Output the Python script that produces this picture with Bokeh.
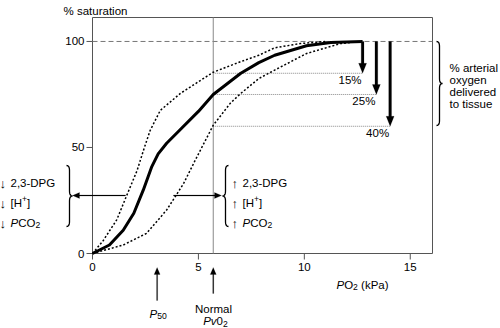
import numpy as np
from bokeh.plotting import figure
from bokeh.models import Range1d, Label, PolyAnnotation
from bokeh.core.properties import value
from bokeh.embed import file_html
from bokeh.resources import INLINE

# ---------------- data ----------------
po2_normal = [0, 0.8, 1.45, 1.95, 2.4, 2.8, 3.1, 3.5, 4.1, 5.0, 5.7, 7.0, 7.85, 8.6, 10.1, 11.25, 12.75]
sat_normal = [0, 4, 11, 19, 30, 41, 47, 52, 58, 67, 75, 85, 90, 93.5, 98, 99.5, 100]

po2_left = [0, 0.5, 1.15, 1.6, 2.1, 2.45, 2.72, 3.2, 4.15, 5.7, 7.0, 7.85, 8.6, 9.8, 11.0]
sat_left = [0, 6, 16, 27, 39, 50, 58, 67.5, 75.5, 85.5, 90.5, 93.5, 97, 99, 100]

po2_right = [0, 1.45, 2.55, 3.5, 4.3, 4.85, 5.7, 6.5, 7.0, 7.85, 8.6, 10.1, 11.7, 12.6]
sat_right = [0, 4, 9.5, 20.5, 33, 44, 60.5, 70.8, 75.5, 82.5, 86.5, 94.3, 99, 100]

x_ticks = [0, 5, 10, 15]
y_ticks = [0, 50, 100]
x_tick_labels = ["0", "5", "10", "15"]
y_tick_labels = ["0", "50", "100"]

delivered_pct = [15, 25, 40]
delivery_arrow_po2 = [12.75, 13.4, 14.05]
arterial_sat = 100
normal_pvo2 = 5.7
p50_marker = 3.05

# ---------------- layout (plot box inside a full-canvas frame) ----------------
L, T, W, H = 92, 17, 340, 236          # plot box in canvas pixels
XMAX, YMAX = 16.05, 111.3               # data extent of the plot box
FONT = "Liberation Sans"
FS = 11.5
AX = "#555555"


def dx(px):
    return (px - L) * XMAX / W


def dy(py):
    return (T + H - py) * YMAX / H


def px_of(x):
    return L + x * W / XMAX


def py_of(y):
    return T + H - y * H / YMAX


p = figure(width=500, height=328,
           x_range=Range1d(dx(0), dx(500)), y_range=Range1d(dy(328), dy(0)),
           output_backend="svg", toolbar_location=None,
           x_axis_location=None, y_axis_location=None, min_border=0)
p.grid.visible = False
p.outline_line_color = None
p.background_fill_color = "white"
p.border_fill_color = "white"

# plot box, ticks and tick labels
p.quad(left=[0], right=[XMAX], bottom=[0], top=[YMAX], fill_alpha=0,
       line_color=AX, line_width=1)
p.segment(x0=x_ticks, y0=[0] * len(x_ticks), x1=x_ticks, y1=[dy(py_of(0) + 6)] * len(x_ticks),
          line_color=AX, line_width=1)
p.segment(x0=[0] * len(y_ticks), y0=y_ticks, x1=[dx(px_of(0) - 6)] * len(y_ticks), y1=y_ticks,
          line_color=AX, line_width=1)
p.text(x=x_ticks, y=[dy(py_of(0) + 9)] * len(x_ticks), text=x_tick_labels,
       text_font=value(FONT), text_font_size=f"{FS}px", text_align="center",
       text_baseline="top", text_color="black")
p.text(x=[dx(px_of(0) - 8)] * len(y_ticks), y=y_ticks, text=y_tick_labels,
       text_font=value(FONT), text_font_size=f"{FS}px", text_align="right",
       text_baseline="middle", text_color="black")

# reference lines
p.segment(x0=[0], y0=[arterial_sat], x1=[XMAX], y1=[arterial_sat], line_color="#777777",
          line_dash="5 3", line_width=1)
p.segment(x0=[normal_pvo2], y0=[0], x1=[normal_pvo2], y1=[YMAX], line_color="#888888",
          line_width=1)

levels = [arterial_sat - d for d in delivered_pct]
p.segment(x0=[normal_pvo2] * len(levels), y0=levels, x1=delivery_arrow_po2, y1=levels,
          line_color="#888888", line_width=1, line_dash="1 1")

# curves
p.line(po2_left, sat_left, line_color="black", line_width=1.5, line_dash="2 2")
p.line(po2_right, sat_right, line_color="black", line_width=1.5, line_dash="2 2")
p.line(po2_normal, sat_normal, line_color="black", line_width=3, line_join="round")

# ---------------- text helpers ----------------
W_EM = {"0": .556, "1": .556, "2": .556, "3": .556, "4": .556, "5": .556, ",": .278,
        "-": .333, "D": .722, "P": .667, "G": .778, "[": .278, "]": .278, "H": .722,
        "+": .584, "C": .722, "O": .778, " ": .278, "(": .333, ")": .333, "k": .5,
        "a": .556, "v": .5, "N": .722, "o": .556, "r": .333, "m": .833, "l": .222,
        "%": .889}


def tw(s, size):
    return sum(W_EM.get(c, .556) for c in s) * size


def rich(parts, px, py, size=FS, align="left"):
    sizes = [size if k in ("n", "i") else size * 0.75 for _, k in parts]
    total = sum(tw(t, s) for (t, _), s in zip(parts, sizes))
    x = px - total / 2 if align == "center" else px
    for (t, k), s in zip(parts, sizes):
        lead = len(t) - len(t.lstrip(" "))
        x += tw(" " * lead, s)
        t = t.lstrip(" ")
        yy = py + (2.5 if k == "sub" else -4 if k == "sup" else 0)
        p.add_layout(Label(x=dx(x), y=dy(yy), text=t, text_font=FONT,
                           text_font_size=f"{s:.1f}px",
                           text_font_style="italic" if k == "i" else "normal",
                           text_baseline="alphabetic", text_align="left",
                           text_color="black"))
        x += tw(t, s)


def label(t, px, py, align="left", baseline="alphabetic", size=FS):
    p.add_layout(Label(x=dx(px), y=dy(py), text=t, text_font=FONT,
                       text_font_size=f"{size}px", text_align=align,
                       text_baseline=baseline, text_color="black"))


# y axis title
label("% saturation", 63, 10)

# x axis title
rich([("P", "i"), ("O", "n"), ("2", "sub"), (" (kPa)", "n")], 336, 284)

# percentages delivered
for xa, lv, d in zip(delivery_arrow_po2, levels, delivered_pct):
    p.add_layout(Label(x=xa, y=lv, x_offset=-1, y_offset=-1, text=f"{d}%",
                       text_font=FONT, text_font_size=f"{FS}px", text_align="right",
                       text_baseline="top", text_color="black"))

# right annotation
for i, t in enumerate(["% arterial", "oxygen", "delivered", "to tissue"]):
    label(t, 449, 67 + 12 * i)

# left / right shift factors
rows = [[("2,3-DPG", "n")],
        [("[H", "n"), ("+", "sup"), ("]", "n")],
        [("P", "i"), ("CO", "n"), ("2", "sub")]]
for i, parts in enumerate(rows):
    by = 182 + 20 * i
    label("\u2193", -1, by + 0.5, size=13)
    rich(parts, 10, by)
    label("\u2191", 231, by + 0.5, size=13)
    rich(parts, 242, by)

rich([("P", "i"), ("50", "sub")], 149, 313)
label("Normal", 213, 308, align="center")
rich([("Pv", "i"), ("0", "n"), ("2", "sub")], 215, 320.5, align="center")


# ---------------- arrows and braces drawn as polygons ----------------
def poly(pts_px, fill=True, lw=1.0):
    xs = [dx(a) for a, _ in pts_px]
    ys = [dy(b) for _, b in pts_px]
    p.add_layout(PolyAnnotation(xs=xs, ys=ys,
                                fill_color="black", fill_alpha=1 if fill else 0,
                                line_color="black", line_width=lw,
                                line_alpha=0.6 if fill else 1))


def arrow(s, e, w, hl, hw):
    s = np.array(s, float)
    e = np.array(e, float)
    u = (e - s) / np.linalg.norm(e - s)
    n = np.array([-u[1], u[0]])
    b = e - u * hl
    pts = [s + n * w / 2, b + n * w / 2, b + n * hw / 2, e, b - n * hw / 2,
           b - n * w / 2, s - n * w / 2]
    poly([tuple(q) for q in pts], fill=True, lw=0.3)


# delivery arrows
for xa, lv in zip(delivery_arrow_po2, levels):
    xp = px_of(xa)
    arrow((xp, py_of(arterial_sat)), (xp, py_of(lv)), 2.8, 10, 8)

# shift arrows
arrow((125, 195), (72, 195), 1.0, 7, 6)
arrow((173, 195), (221, 195), 1.0, 7, 6)

# P50 and normal PvO2 markers
arrow((px_of(p50_marker), 300), (px_of(p50_marker), 267), 1.0, 7, 6)
arrow((px_of(normal_pvo2), 293), (px_of(normal_pvo2), 267), 1.0, 7, 6)


# braces (thin paths)
def brace(arm_px, tip_px, top_px, bot_px):
    mid = (arm_px + tip_px) / 2
    c = (top_px + bot_px) / 2
    r = 5.0
    t = np.linspace(0, 1, 8)

    def quad(p0, p1, p2):
        return [((1 - s) ** 2 * p0[0] + 2 * (1 - s) * s * p1[0] + s ** 2 * p2[0],
                 (1 - s) ** 2 * p0[1] + 2 * (1 - s) * s * p1[1] + s ** 2 * p2[1]) for s in t]

    pts = []
    pts += quad((arm_px, top_px), (mid, top_px), (mid, top_px + r))
    pts += quad((mid, c - r), (mid, c), (tip_px, c))
    pts += quad((tip_px, c), (mid, c), (mid, c + r))
    pts += quad((mid, bot_px - r), (mid, bot_px), (arm_px, bot_px))
    poly(pts + pts[::-1], fill=False, lw=1.3)


brace(66, 72, 165, 226)
brace(228, 222, 165, 226)
brace(436, 442, 41, 125)

open("out.html", "w").write(file_html(p, INLINE))
